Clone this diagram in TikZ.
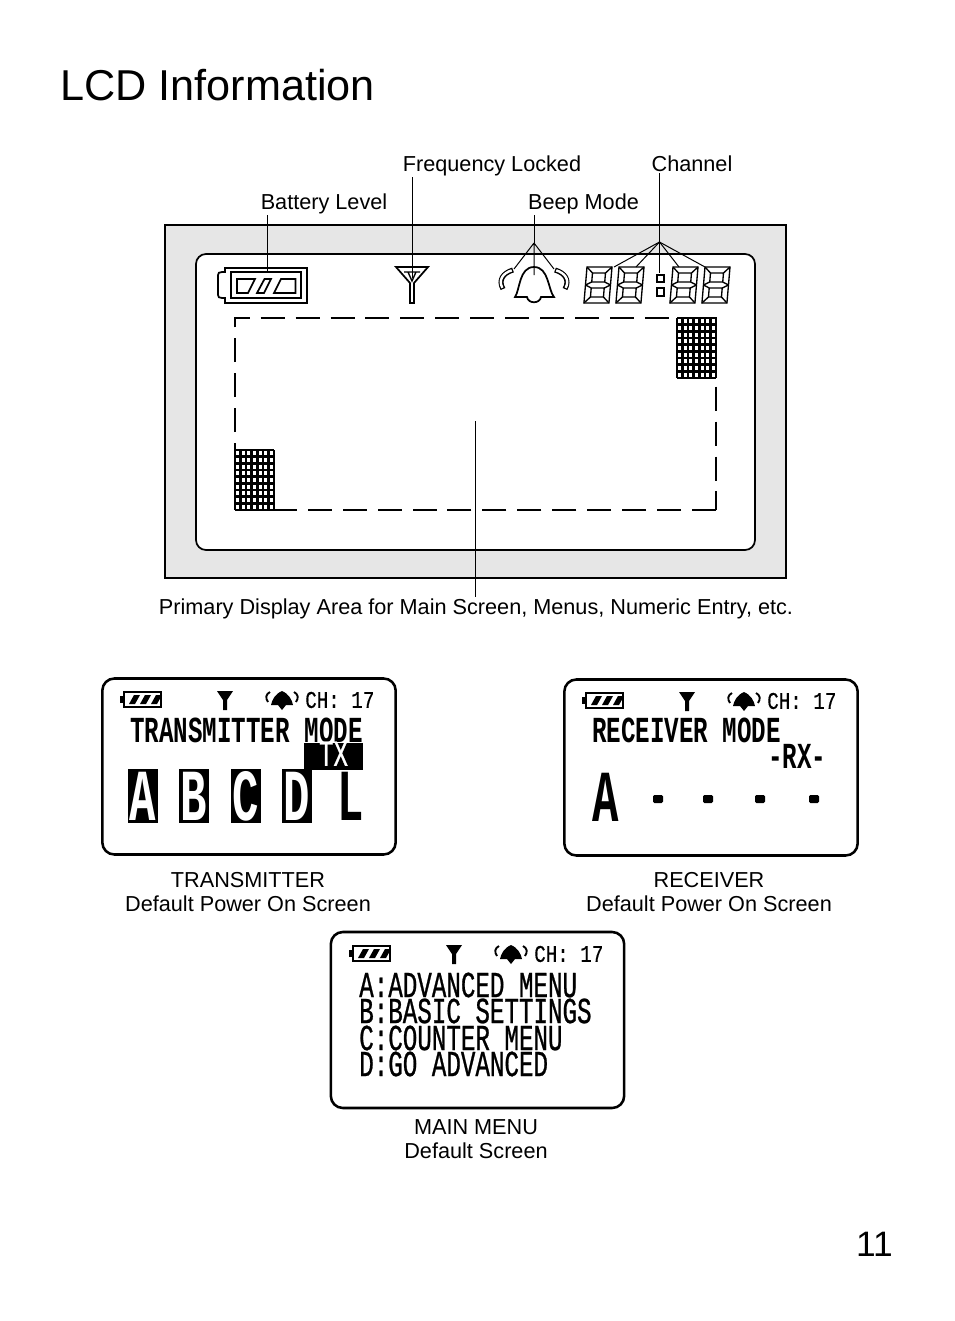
\documentclass[tikz,border=0pt]{standalone}
\usepackage{fontspec}
\setmainfont{Liberation Sans}
\newfontfamily\lcdfont[FakeStretch=0.66]{Liberation Mono}
\newfontfamily\lcdthin[FakeStretch=0.66,FakeBold=0.7]{Liberation Mono}
\newfontfamily\lcdsmall[FakeStretch=0.8,FakeBold=0.4]{Liberation Mono}
\newfontfamily\lcdbig[FakeStretch=0.6]{Liberation Mono}
\definecolor{panelgray}{HTML}{E6E6E6}
\begin{document}
\begin{tikzpicture}[x=0.75pt, y=-0.75pt]
\tikzstyle{lcdline}=[draw=black, line width=1.3pt]
\tikzstyle{leader}=[draw=black, line width=0.75pt]
\tikzstyle{thinline}=[draw=black, line width=1pt]
\tikzstyle{gridline}=[draw=black, line width=1.9pt]
\tikzstyle{label}=[font=\fontsize{16.25pt}{18pt}\selectfont, inner sep=1pt, align=center]
\tikzstyle{toplabel}=[label, anchor=base]
\tikzstyle{lcdscreen}=[draw=black, fill=white, line width=1.9pt, rounded corners=9pt, minimum width=220pt, minimum height=132pt, inner sep=0pt]
\tikzstyle{lcdrow}=[font=\fontsize{27.5pt}{30pt}\lcdfont\bfseries, inner sep=0pt, anchor=west]
\tikzstyle{menurow}=[font=\fontsize{27.5pt}{30pt}\lcdthin, inner sep=0pt, anchor=west]
\tikzstyle{lcdstatus}=[font=\fontsize{18pt}{20pt}\lcdsmall, inner sep=0pt, anchor=west]
\tikzstyle{lcdletter}=[font=\fontsize{55pt}{55pt}\lcdbig\bfseries, inner sep=0pt]
\tikzstyle{invletter}=[lcdletter, fill=black, text=white, minimum width=22.5pt, minimum height=40.5pt]
\tikzset{
  lcddigit/.pic={
    \begin{scope}[xslant=0.085, thinline]
    \draw (0,0) rectangle (25,36);
    \draw (6,6) rectangle (19,15) (6,21) rectangle (19,30);
    \draw (0,0) -- (6,6) (25,0) -- (19,6) (0,36) -- (6,30) (25,36) -- (19,30);
    \draw (0,18) -- (6,15) (0,18) -- (6,21) (25,18) -- (19,15) (25,18) -- (19,21);
    \end{scope}
  },
  lcdgrid/.pic={
    \foreach \i in {0,...,7} \draw[gridline] (\i*5.57,0) -- (\i*5.57,60);
    \foreach \j in {0,...,9} \draw[gridline] (0,\j*6.67) -- (39,\j*6.67);
  },
  statusbar/.pic={
    \draw[line width=2pt] (22,14) rectangle (59,29);
    \draw[line width=2.4pt] (20,18) -- (20,25);
    \foreach \k in {27,38,49} \fill (\k,26) -- (\k+5,17) -- (\k+11,17) -- (\k+6,26) -- cycle;
    \fill (115,13) -- (131,13) -- (125,22) -- (125,32) -- (121,32) -- (121,22) -- cycle;
    \fill (180,13) .. controls (187,16) and (190,22) .. (191,27) -- (184,27) -- (180,32) -- (176,27) -- (169,27) .. controls (170,22) and (173,16) .. (180,13) -- cycle;
    \draw[line width=1.4pt] (166,24) .. controls (163,20) and (164,16) .. (168,14);
    \draw[line width=1.4pt] (194,24) .. controls (197,20) and (196,16) .. (192,14);
  }
}
\useasboundingbox (0,0) rectangle (954,1321);
% title and page number
\node[font=\fontsize{32.4pt}{36pt}\selectfont, inner sep=0pt, anchor=west] (title) at (60,85) {LCD Information};
\node[font=\fontsize{26.5pt}{30pt}\selectfont, inner sep=0pt, anchor=east] (pagenum) at (893,1244) {11};
% big display
\draw[thinline, fill=panelgray] (165,225) rectangle (786,578);
\draw[lcdline, fill=white, rounded corners=7.5pt] (196,254) rectangle (755,550);
\draw[lcdline] (222,272) -- (225,272) -- (225,268) -- (307,268) -- (307,303) -- (225,303) -- (225,298) -- (222,298) .. controls (219,298) and (218,297) .. (218,295) -- (218,275) .. controls (218,273) and (219,272) .. (222,272) -- cycle;
\draw[lcdline] (231,272) rectangle (301,298);
\draw[lcdline] (237,279) -- (255,279) -- (248,293) -- (237,293) -- cycle;
\draw[lcdline] (264.5,279) -- (271,279) -- (264,293) -- (257,293) -- cycle;
\draw[lcdline] (281,279) -- (295.5,279) -- (295.5,293) -- (274,293) -- cycle;
\draw[lcdline] (396,267) -- (428,267) -- (414,283) -- (414,303) -- (410,303) -- (410,283) -- cycle;
\draw[thinline] (404,272) -- (420,272) (408,272) -- (412,281) -- (416,272);
\draw[lcdline] (515,297) .. controls (520,290) and (519,267) .. (534,267) .. controls (549,267) and (548,290) .. (554,297) -- (541,297) .. controls (540,304) and (528,304) .. (527,297) -- cycle;
\draw[line width=3.8pt] (503,289) .. controls (498,280) and (503,273) .. (513,270);
\draw[line width=1.8pt, white, shorten >=1pt, shorten <=1pt] (503,289) .. controls (498,280) and (503,273) .. (513,270);
\draw[line width=3.8pt] (565,289) .. controls (570,280) and (565,273) .. (555,270);
\draw[line width=1.8pt, white, shorten >=1pt, shorten <=1pt] (565,289) .. controls (570,280) and (565,273) .. (555,270);
\foreach \dx/\dname in {586/one, 618/two, 672/three, 704/four}
  \pic (digit\dname) at (\dx+1,267) {lcddigit};
\draw[thinline] (657,275) rectangle (664,282) (657,288) rectangle (664,296);
\draw[lcdline, dash pattern=on 18pt off 8.2pt] (716,510) -- (235,510) -- (235,318) -- (716,318) -- cycle;
\pic (gridtop) at (677,318) {lcdgrid};
\pic (gridbottom) at (235,450) {lcdgrid};
% labels over the display
\node[toplabel] (battlabel) at (324,209) {Battery Level};
\node[toplabel] (freqlabel) at (492,171) {Frequency Locked};
\node[toplabel] (beeplabel) at (583.5,209) {Beep Mode};
\node[toplabel] (chanlabel) at (692,171) {Channel};
\node[toplabel] (arealabel) at (476,614) {Primary Display Area for Main Screen, Menus, Numeric Entry, etc.};
\coordinate (battend) at (267,273);
\coordinate (freqend) at (412,278);
\coordinate (beephub) at (534,243);
\coordinate (beepleft) at (514,269);
\coordinate (beepright) at (554,269);
\coordinate (beepmid) at (534,275);
\coordinate (chanhub) at (659.5,242);
\coordinate (areaend) at (475,421);
\draw[leader] (battlabel.south -| battend) -- (battend);
\draw[leader] (freqlabel.south -| freqend) -- (freqend);
\draw[leader] (beeplabel.south -| beephub) -- (beephub);
\draw[leader] (beephub) -- (beepleft) (beephub) -- (beepright) (beephub) -- (beepmid);
\draw[leader] (chanlabel.south -| chanhub) -- (chanhub);
\foreach \ex/\ey in {614/267, 636/267, 659.5/273, 679/267, 705/267}
  \draw[leader] (chanhub) -- (\ex,\ey);
\draw[leader] (arealabel.north -| areaend) -- (areaend);
% transmitter screen
\node[lcdscreen] (txscreen) at (249,766.5) {};
\pic (txstatus) at (102,678) {statusbar};
\node[lcdstatus] (txch) at (305,700) {CH: 17};
\node[lcdrow] (txrow) at (130,730) {TRANSMITTER MODE};
\node[font=\fontsize{27.5pt}{30pt}\lcdthin, fill=black, text=white, inner sep=0pt, minimum width=44.25pt, minimum height=20.25pt, text height=16pt, text depth=2pt] (txtag) at (333.5,756.5) {TX};
\foreach \lx/\lt in {143/A, 194/B, 245.5/C, 297/D}
  \node[invletter] (letter\lt) at (\lx,796) {\lt};
\node[lcdletter] (letterL) at (351,796) {L};
\node[label] (txcaption) at (248,892) {TRANSMITTER\\Default Power On Screen};
% receiver screen
\node[lcdscreen] (rxscreen) at (711,767.5) {};
\pic (rxstatus) at (564,679) {statusbar};
\node[lcdstatus] (rxch) at (767,701) {CH: 17};
\node[lcdrow] (rxrow) at (592,730) {RECEIVER MODE};
\node[lcdrow] (rxtag) at (768,756) {-RX-};
\node[lcdletter] (rxletter) at (606,797) {A};
\foreach \px in {658,708,760,814}
  \node[fill=black, rounded corners=1pt, minimum width=7.5pt, minimum height=6pt, inner sep=0pt] (dot\px) at (\px,799) {};
\node[label] (rxcaption) at (709,892) {RECEIVER\\Default Power On Screen};
% main menu screen
\node[lcdscreen] (menuscreen) at (477.5,1020) {};
\pic (menustatus) at (331,932) {statusbar};
\node[lcdstatus] (menuch) at (534,954) {CH: 17};
\node[menurow] (menua) at (359,985) {A:ADVANCED MENU};
\node[menurow] (menub) at (359,1011) {B:BASIC SETTINGS};
\node[menurow] (menuc) at (359,1038) {C:COUNTER MENU};
\node[menurow] (menud) at (359,1064) {D:GO ADVANCED};
\node[label] (menucaption) at (476,1139) {MAIN MENU\\Default Screen};
\end{tikzpicture}
\end{document}
